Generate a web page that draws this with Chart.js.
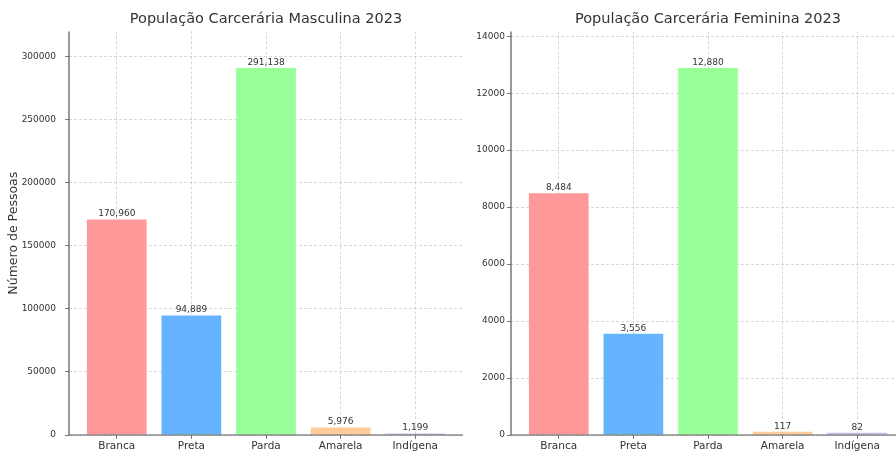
<!DOCTYPE html>
<html>
<head>
<meta charset="utf-8">
<script src="https://cdn.jsdelivr.net/npm/chart.js@4.4.1/dist/chart.umd.min.js"></script>
<style>
  html, body { margin: 0; padding: 0; background: #fff; overflow: hidden; width: 896px; height: 452px; }
  .wrap { position: absolute; top: 0; height: 452px; }
  #w1 { left: 0; width: 470px; }
  #w2 { left: 470px; width: 446px; }
</style>
</head>
<body>
<div class="wrap" id="w1"><canvas id="c1"></canvas></div>
<div class="wrap" id="w2"><canvas id="c2"></canvas></div>
<script>
const categories = ['Branca', 'Preta', 'Parda', 'Amarela', 'Indígena'];
const maleValues = [170960, 94889, 291138, 5976, 1199];
const femaleValues = [8484, 3556, 12880, 117, 82];
const barColors = ['#ff9999', '#66b3ff', '#99ff99', '#ffcc99', '#c2c2f0'];
const maleTitle = 'População Carcerária Masculina 2023';
const femaleTitle = 'População Carcerária Feminina 2023';
const yTitle = 'Número de Pessoas';
const maleTicks = [0, 50000, 100000, 150000, 200000, 250000, 300000];
const femaleTicks = [0, 2000, 4000, 6000, 8000, 10000, 12000, 14000];

const FONT = "'DejaVu Sans', sans-serif";
const TXT = '#333333';
const GRID = 'rgba(160,160,160,0.5)';
const SPINE = '#555555';

const valueLabels = {
  id: 'valueLabels',
  afterDatasetsDraw(chart) {
    const ctx = chart.ctx;
    const meta = chart.getDatasetMeta(0);
    const data = chart.data.datasets[0].data;
    ctx.save();
    ctx.font = '9px ' + FONT;
    ctx.fillStyle = TXT;
    ctx.textAlign = 'center';
    ctx.textBaseline = 'bottom';
    meta.data.forEach((bar, i) => {
      const v = data[i].y;
      ctx.fillText(v.toLocaleString('en-US'), bar.x, bar.y - 1);
    });
    ctx.restore();
  }
};

// solid spines drawn on top (left and bottom)
const spines = {
  id: 'spines',
  afterDraw(chart) {
    const { ctx, chartArea: a } = chart;
    ctx.save();
    ctx.setLineDash([]);
    ctx.strokeStyle = SPINE;
    ctx.lineWidth = 1.2;
    ctx.beginPath();
    ctx.moveTo(a.left, a.top);
    ctx.lineTo(a.left, a.bottom);
    ctx.lineTo(a.right, a.bottom);
    ctx.stroke();
    ctx.restore();
  }
};

function makeChart(id, values, title, tickVals, yAxisWidth, tickPad, rightPad, showYTitle) {
  const maxV = Math.max(...values) * 1.1;
  const gridOpts = {
    color: GRID,
    offset: false,
    tickColor: SPINE,
    tickBorderDash: [],
    tickLength: 4,
    drawTicks: true,
    lineWidth: 0.8
  };
  return new Chart(document.getElementById(id), {
    type: 'bar',
    data: {
      datasets: [{
        data: values.map((v, i) => ({ x: i, y: v })),
        backgroundColor: barColors,
        borderWidth: 0,
        barPercentage: 1,
        categoryPercentage: 0.8
      }]
    },
    options: {
      responsive: true,
      maintainAspectRatio: false,
      animation: false,
      layout: { padding: { left: 0, right: rightPad, top: 0, bottom: 0 } },
      plugins: {
        legend: { display: false },
        tooltip: { enabled: false },
        title: {
          display: true,
          text: title,
          fullSize: false,
          color: TXT,
          font: { family: FONT, size: 14.5, weight: 'normal', lineHeight: 1.2 },
          padding: { top: 11, bottom: 3 }
        }
      },
      scales: {
        x: {
          type: 'linear',
          min: -0.64,
          max: 4.64,
          z: 1,
          offset: false,
          afterBuildTicks(s) { s.ticks = categories.map((c, i) => ({ value: i })); },
          afterFit(s) { s.height = 17; },
          ticks: {
            callback: (v) => categories[v] ?? '',
            color: TXT,
            font: { family: FONT, size: 10.5 },
            padding: 1,
            maxRotation: 0,
            autoSkip: false
          },
          grid: gridOpts,
          border: { display: false, dash: [3, 2] }
        },
        y: {
          min: 0,
          max: maxV,
          z: 1,
          afterBuildTicks(s) { s.ticks = tickVals.map(v => ({ value: v })); },
          afterFit(s) { s.width = yAxisWidth; },
          ticks: {
            callback: (v) => String(v),
            color: TXT,
            font: { family: FONT, size: 9 },
            padding: tickPad,
            autoSkip: false
          },
          grid: gridOpts,
          border: { display: false, dash: [3, 2] },
          title: {
            display: showYTitle,
            text: yTitle,
            color: TXT,
            font: { family: FONT, size: 12.5 },
            padding: { top: 6, bottom: 0 }
          }
        }
      }
    },
    plugins: [valueLabels, spines]
  });
}

makeChart('c1', maleValues, maleTitle, maleTicks, 69, 9, 7, true);
makeChart('c2', femaleValues, femaleTitle, femaleTicks, 41, 2, 11, false);
</script>
</body>
</html>
